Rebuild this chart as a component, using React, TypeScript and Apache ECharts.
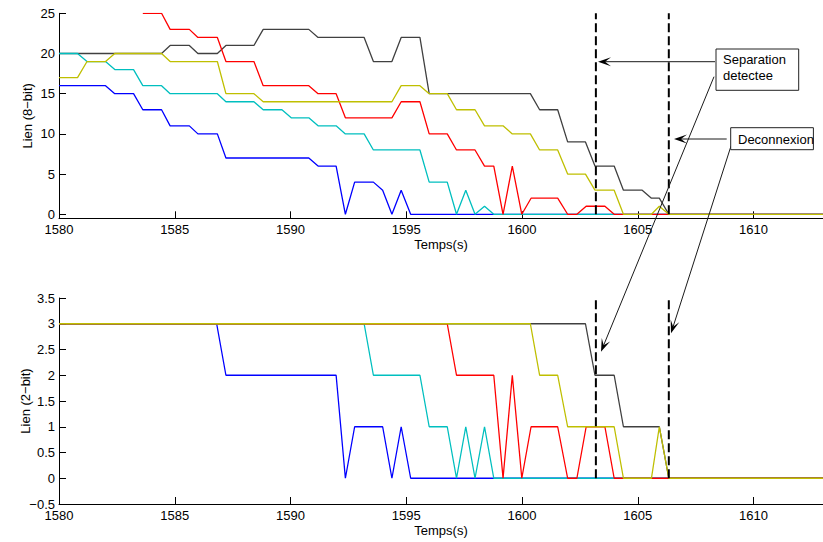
import React, { useEffect, useRef } from "react";
import * as echarts from "echarts";

// ---- data ----
const xTickValues = [1580, 1585, 1590, 1595, 1600, 1605, 1610];
const y8TickValues = [0, 5, 10, 15, 20, 25];
const y2TickValues = [-0.5, 0, 0.5, 1, 1.5, 2, 2.5, 3, 3.5];

const separationTime = 1603.19;
const deconnexionTime = 1606.34;

// 8-bit link quality: [time, value] vertices
const black8 = [[1580,20],[1584.43,20],[1584.8,21],[1585.63,21],[1586.0,20],[1586.84,20],[1587.21,21],[1588.42,21],[1588.82,23],[1590.79,23],[1591.19,22],[1593.18,22],[1593.58,19],[1594.38,19],[1594.78,22],[1595.59,22],[1595.99,15],[1600.36,15],[1600.76,13],[1601.54,13],[1601.97,9],[1602.74,9],[1603.15,6],[1603.98,6],[1604.38,3],[1605.19,3],[1605.59,2],[1605.93,2],[1606.34,0],[1613,0]];
const blue8 = [[1580,16],[1582.01,16],[1582.41,15],[1583.22,15],[1583.62,13],[1584.43,13],[1584.8,11],[1585.63,11],[1586.0,10],[1586.84,10],[1587.21,7],[1590.79,7],[1591.19,6],[1591.97,6],[1592.37,0],[1592.77,4],[1593.58,4],[1593.98,3],[1594.38,0],[1594.78,3],[1595.19,0],[1613,0]];
const cyan8 = [[1580,20],[1580.8,20],[1581.21,19],[1582.01,19],[1582.41,18],[1583.22,18],[1583.62,16],[1584.43,16],[1584.8,15],[1586.84,15],[1587.21,14],[1588.42,14],[1588.82,13],[1589.63,13],[1590.03,12],[1590.79,12],[1591.19,11],[1591.97,11],[1592.37,10],[1593.18,10],[1593.58,8],[1595.59,8],[1595.99,4],[1596.77,4],[1597.17,0],[1597.57,3],[1597.97,0],[1598.38,1],[1598.78,0],[1613,0]];
const red8 = [[1583.62,25],[1584.43,25],[1584.8,23],[1585.63,23],[1586.0,22],[1586.84,22],[1587.21,19],[1588.42,19],[1588.82,16],[1590.79,16],[1591.19,15],[1591.97,15],[1592.37,12],[1594.38,12],[1594.78,14],[1595.59,14],[1595.99,10],[1596.77,10],[1597.17,8],[1597.97,8],[1598.38,6],[1598.78,6],[1599.18,0],[1599.58,6],[1599.99,0],[1600.39,2],[1601.54,2],[1601.97,0],[1602.37,0],[1602.77,1],[1603.58,1],[1603.98,0],[1613,0]];
const yellow8 = [[1580,17],[1580.8,17],[1581.21,19],[1582.01,19],[1582.41,20],[1584.43,20],[1584.8,19],[1586.84,19],[1587.21,15],[1588.42,15],[1588.82,14],[1594.38,14],[1594.78,16],[1595.59,16],[1595.99,15],[1596.77,15],[1597.17,13],[1597.97,13],[1598.38,11],[1599.18,11],[1599.58,10],[1600.36,10],[1600.76,8],[1601.54,8],[1601.97,5],[1602.74,5],[1603.15,3],[1603.98,3],[1604.38,0],[1605.59,0],[1605.93,1],[1606.34,0],[1613,0]];

// 2-bit link quality
const black2 = [[1580,3],[1602.74,3],[1603.15,2],[1603.98,2],[1604.38,1],[1605.93,1],[1606.34,0],[1613,0]];
const blue2 = [[1580,3],[1586.81,3],[1587.21,2],[1591.97,2],[1592.37,0],[1592.77,1],[1593.98,1],[1594.38,0],[1594.78,1],[1595.19,0],[1613,0]];
const cyan2 = [[1580,3],[1593.18,3],[1593.58,2],[1595.59,2],[1595.99,1],[1596.77,1],[1597.17,0],[1597.57,1],[1597.97,0],[1598.38,1],[1598.78,0],[1613,0]];
const red2 = [[1580,3],[1596.77,3],[1597.17,2],[1598.78,2],[1599.18,0],[1599.58,2],[1599.99,0],[1600.39,1],[1601.54,1],[1601.97,0],[1602.37,0],[1602.77,1],[1603.58,1],[1603.98,0],[1613,0]];
const yellow2 = [[1580,3],[1600.36,3],[1600.76,2],[1601.54,2],[1601.97,1],[1603.98,1],[1604.38,0],[1605.59,0],[1605.93,1],[1606.34,0],[1613,0]];

const COLORS = { black: "#404040", blue: "#0000ff", cyan: "#00bfbf", red: "#ff0000", yellow: "#bfbf00" };
const FONT = "'Liberation Sans', Arial, Helvetica, sans-serif";

function lineSeries(data: number[][], color: string, idx: number) {
  return {
    type: "line",
    xAxisIndex: idx,
    yAxisIndex: idx,
    data,
    symbol: "none",
    lineStyle: { color, width: 1.3 },
    itemStyle: { color },
    silent: true,
  };
}

function dashSeries(t: number, top: number, idx: number) {
  return {
    type: "line",
    xAxisIndex: idx,
    yAxisIndex: idx,
    data: [[t, 0], [t, top]],
    symbol: "none",
    lineStyle: { color: "#000", width: 2, type: [9, 4] },
    z: 5,
    silent: true,
  };
}

function arrow(x1: number, y1: number, x2: number, y2: number) {
  const dx = x2 - x1, dy = y2 - y1;
  const len = Math.sqrt(dx * dx + dy * dy);
  const ux = dx / len, uy = dy / len;
  const nx = -uy, ny = ux;
  const L = 13, N = 7, HW = 4.5;
  const points = [
    [x2, y2],
    [x2 - ux * L + nx * HW, y2 - uy * L + ny * HW],
    [x2 - ux * N, y2 - uy * N],
    [x2 - ux * L - nx * HW, y2 - uy * L - ny * HW],
  ];
  return [
    { type: "line", z: 100, shape: { x1, y1, x2: x2 - ux * 5, y2: y2 - uy * 5 }, style: { stroke: "#1a1a1a", lineWidth: 1 } },
    { type: "polygon", z: 101, shape: { points }, style: { fill: "#000" } },
  ];
}

function xAxisDef(idx: number) {
  return {
    type: "value",
    gridIndex: idx,
    min: 1580,
    max: 1613,
    name: "Temps(s)",
    nameLocation: "middle",
    nameGap: 20,
    nameMoveOverlap: false,
    nameTextStyle: { fontSize: 13, fontFamily: FONT, color: "#000" },
    axisLine: { onZero: false, lineStyle: { color: "#000", width: 1 } },
    axisTick: { inside: true, length: 7, lineStyle: { color: "#000" }, customValues: xTickValues },
    axisLabel: { margin: 5, fontSize: 13, fontFamily: FONT, color: "#000", customValues: xTickValues, formatter: (v: number) => String(v) },
    splitLine: { show: false },
  };
}

export default function App() {
  const ref = useRef<HTMLDivElement>(null);
  useEffect(() => {
    if (!ref.current) return;
    const chart = echarts.init(ref.current, null, { renderer: "svg" });
    const option = {
      animation: false,
      backgroundColor: "#fff",
      grid: [
        { left: 59, top: 13.3, width: 765.6, height: 205 },
        { left: 59, top: 298, width: 765.6, height: 206 },
      ],
      xAxis: [xAxisDef(0), xAxisDef(1)],
      yAxis: [
        {
          type: "value",
          gridIndex: 0,
          min: -0.5,
          max: 25,
          name: "Lien (8\u2212bit)",
          nameLocation: "middle",
          nameGap: 25,
          nameMoveOverlap: false,
          nameTextStyle: { fontSize: 13, fontFamily: FONT, color: "#000" },
          axisLine: { show: true, onZero: false, lineStyle: { color: "#000", width: 1 } },
          axisTick: { show: true, inside: true, length: 7, lineStyle: { color: "#000" }, customValues: y8TickValues },
          axisLabel: { margin: 4, fontSize: 13, fontFamily: FONT, color: "#000", customValues: y8TickValues },
          splitLine: { show: false },
        },
        {
          type: "value",
          gridIndex: 1,
          min: -0.5,
          max: 3.5,
          interval: 0.5,
          name: "Lien (2\u2212bit)",
          nameLocation: "middle",
          nameGap: 27,
          nameMoveOverlap: false,
          nameTextStyle: { fontSize: 13, fontFamily: FONT, color: "#000" },
          axisLine: { show: true, onZero: false, lineStyle: { color: "#000", width: 1 } },
          axisTick: { show: true, inside: true, length: 7, lineStyle: { color: "#000" }, customValues: y2TickValues },
          axisLabel: {
            margin: 4, fontSize: 13, fontFamily: FONT, color: "#000", customValues: y2TickValues,
            formatter: (v: number) => String(v).replace("-", "\u2212"),
          },
          splitLine: { show: false },
        },
      ],
      series: [
        lineSeries(black8, COLORS.black, 0),
        lineSeries(blue8, COLORS.blue, 0),
        lineSeries(cyan8, COLORS.cyan, 0),
        lineSeries(red8, COLORS.red, 0),
        lineSeries(yellow8, COLORS.yellow, 0),
        dashSeries(separationTime, 25, 0),
        dashSeries(deconnexionTime, 25, 0),
        lineSeries(black2, COLORS.black, 1),
        lineSeries(blue2, COLORS.blue, 1),
        lineSeries(cyan2, COLORS.cyan, 1),
        lineSeries(red2, COLORS.red, 1),
        lineSeries(yellow2, COLORS.yellow, 1),
        dashSeries(separationTime, 3.5, 1),
        dashSeries(deconnexionTime, 3.5, 1),
      ],
      graphic: [
        ...arrow(715, 61.7, 598, 61.7),
        ...arrow(714, 76.7, 601, 351.7),
        ...arrow(726.7, 139, 674, 139),
        ...arrow(731, 146, 671, 333.3),
        { type: "rect", z: 102, shape: { x: 716, y: 49, width: 82.7, height: 41.3 }, style: { fill: "#fff", stroke: "#222", lineWidth: 1 } },
        { type: "text", z: 103, x: 723, y: 52, style: { text: "Separation\ndetectee", fontSize: 13, fontFamily: FONT, fill: "#000", lineHeight: 15.5, verticalAlign: "top" } },
        { type: "rect", z: 102, shape: { x: 730.7, y: 127.7, width: 82.7, height: 22 }, style: { fill: "#fff", stroke: "#222", lineWidth: 1 } },
        { type: "text", z: 103, x: 738, y: 139, style: { text: "Deconnexion", fontSize: 13, fontFamily: FONT, fill: "#000", verticalAlign: "middle" } },
      ],
    };
    chart.setOption(option as any);
    return () => chart.dispose();
  }, []);
  return <div ref={ref} style={{ position: "absolute", left: 0, top: 0, width: 823, height: 542 }} />;
}
